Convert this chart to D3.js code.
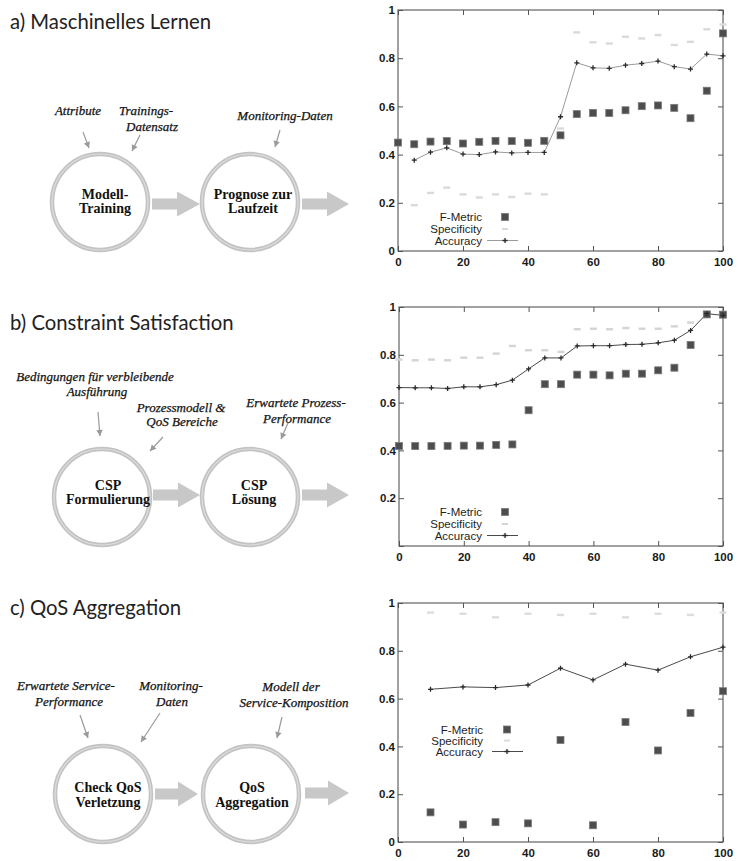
<!DOCTYPE html>
<html>
<head>
<meta charset="utf-8">
<script src="https://cdn.jsdelivr.net/npm/d3@7/dist/d3.min.js"></script>
<style>
  html, body { margin: 0; padding: 0; background: #fff; }
  svg { display: block; }
</style>
</head>
<body>
<svg id="fig" width="738" height="861"></svg>
<script>
// ---------------- DATA ----------------
const xSteps5 = [0,5,10,15,20,25,30,35,40,45,50,55,60,65,70,75,80,85,90,95,100];
const xSteps10 = [10,20,30,40,50,60,70,80,90,100];
const xTickValues = [0,20,40,60,80,100];
const yTickValues = [0,0.2,0.4,0.6,0.8,1];
const seriesNames = ["F-Metric","Specificity","Accuracy"];

// a) Maschinelles Lernen
const fMetricA     = [0.45,0.443,0.454,0.456,0.446,0.453,0.457,0.456,0.449,0.457,0.48,0.568,0.573,0.573,0.584,0.601,0.604,0.594,0.551,0.665,0.903];
const specificityA = [null,0.19,0.241,0.263,0.235,0.222,0.235,0.224,0.238,0.235,0.508,0.907,0.866,0.861,0.889,0.882,0.896,0.855,0.868,0.92,0.94];
const accuracyA    = [null,0.377,0.41,0.428,0.402,0.40,0.411,0.407,0.409,0.409,0.557,0.781,0.76,0.758,0.771,0.778,0.788,0.765,0.755,0.817,0.81];

// b) Constraint Satisfaction
const fMetricB     = [0.418,0.418,0.418,0.419,0.42,0.42,0.423,0.425,0.568,0.677,0.677,0.717,0.717,0.714,0.721,0.721,0.735,0.746,0.841,0.969,0.968];
const specificityB = [0.78,0.777,0.78,0.777,0.788,0.788,0.805,0.837,0.819,0.819,0.812,0.907,0.909,0.907,0.912,0.909,0.909,0.919,0.935,0.975,0.97];
const accuracyB    = [0.663,0.662,0.662,0.659,0.666,0.666,0.675,0.694,0.741,0.787,0.787,0.837,0.838,0.838,0.843,0.844,0.85,0.861,0.902,0.972,0.965];

// c) QoS Aggregation
const fMetricC     = [0.124,0.073,0.083,0.078,0.427,0.07,0.502,0.383,0.54,0.631];
const specificityC = [0.96,0.955,0.94,0.955,0.95,0.955,0.94,0.955,0.95,0.96];
const accuracyC    = [0.639,0.649,0.646,0.657,0.727,0.678,0.744,0.719,0.775,0.815];

// ---------------- LAYOUT ----------------
const svg = d3.select("#fig");
svg.append("rect").attr("width",738).attr("height",861).attr("fill","#fff");

const sans = "'Liberation Sans', Arial, sans-serif";
const serif = "'Liberation Serif', 'Times New Roman', serif";

const charts = [
  { x0:398, x1:723, y0:10,  y1:251, xs:xSteps5,  fm:fMetricA, sp:specificityA, acc:accuracyA,
    showZero:true, accColor:"#9a9a9a", spColor:"#dadada", legX:482, legMark:505, legLine:[487,518], legY:[217,229,240.5], legBox:false },
  { x0:399, x1:723, y0:307, y1:546, xs:xSteps5,  fm:fMetricB, sp:specificityB, acc:accuracyB,
    showZero:false, accColor:"#4a4a4a", spColor:"#d4d4d4", legX:482, legMark:505, legLine:[487,518], legY:[512,524,535.5], legBox:false },
  { x0:398, x1:723, y0:603, y1:842, xs:xSteps10, fm:fMetricC, sp:specificityC, acc:accuracyC,
    showZero:true, accColor:"#4a4a4a", spColor:"#dcdcdc", legX:483, legMark:507, legLine:[492,523], legY:[729.5,740.5,751.5], legBox:true }
];

charts.forEach(c => {
  const g = svg.append("g");
  const x = d3.scaleLinear().domain([0,100]).range([c.x0, c.x1]);
  const y = d3.scaleLinear().domain([0,1]).range([c.y1, c.y0]);
  const fmt = v => v === 0 ? (c.showZero ? "0" : "") : (v === 1 ? "1" : d3.format(".1f")(v));

  const styleAxis = sel => {
    sel.select(".domain").remove();
    sel.selectAll(".tick line").attr("stroke","#555").attr("stroke-width",1);
    sel.selectAll("text").attr("font-family",sans).attr("font-weight","bold")
      .attr("font-size",11.5).attr("fill","#1a1a1a");
  };
  g.append("g").attr("transform",`translate(${c.x0},0)`)
    .call(d3.axisLeft(y).tickValues(yTickValues).tickFormat(fmt).tickSize(-5).tickPadding(3))
    .call(styleAxis);
  g.append("g").attr("transform",`translate(${c.x1},0)`)
    .call(d3.axisRight(y).tickValues(yTickValues).tickFormat("").tickSize(-5))
    .call(styleAxis);
  g.append("g").attr("transform",`translate(0,${c.y1})`)
    .call(d3.axisBottom(x).tickValues(xTickValues).tickFormat(d3.format("d")).tickSize(-5).tickPadding(7))
    .call(styleAxis);
  g.append("g").attr("transform",`translate(0,${c.y0})`)
    .call(d3.axisTop(x).tickValues(xTickValues).tickFormat("").tickSize(-5))
    .call(styleAxis);
  g.append("rect").attr("x",c.x0).attr("y",c.y0).attr("width",c.x1-c.x0).attr("height",c.y1-c.y0)
    .attr("fill","none").attr("stroke","#555").attr("stroke-width",1.1);

  // legend background (c)
  if (c.legBox) {
    g.append("rect").attr("x",c.legX-55).attr("y",c.legY[0]-8).attr("width",c.legLine[1]-c.legX+60)
      .attr("height",c.legY[2]-c.legY[0]+16).attr("fill","#fff");
  }

  // Specificity: light dashes
  const spPts = c.xs.map((v,i)=>({x:v,y:c.sp[i]})).filter(d=>d.y!=null);
  g.selectAll(".sp").data(spPts).enter().append("rect")
    .attr("x",d=>x(d.x)-3.5).attr("y",d=>y(d.y)-1.2).attr("width",7).attr("height",2.4)
    .attr("fill",c.spColor);

  // Accuracy: line with small plus markers
  const accPts = c.xs.map((v,i)=>({x:v,y:c.acc[i]})).filter(d=>d.y!=null);
  g.append("path").datum(accPts)
    .attr("d", d3.line().x(d=>x(d.x)).y(d=>y(d.y)))
    .attr("fill","none").attr("stroke",c.accColor).attr("stroke-width",1);
  // F-Metric squares
  const fmPts = c.xs.map((v,i)=>({x:v,y:c.fm[i]})).filter(d=>d.y!=null);
  g.selectAll(".fm").data(fmPts).enter().append("rect")
    .attr("x",d=>x(d.x)-3.5).attr("y",d=>y(d.y)-3.5).attr("width",7).attr("height",7)
    .attr("fill","#4d4d4d").attr("stroke","#7a7a7a").attr("stroke-width",0.8);
  g.selectAll(".acc").data(accPts).enter().append("path")
    .attr("transform",d=>`translate(${x(d.x)},${y(d.y)})`)
    .attr("d","M-2.5,0H2.5M0,-2.5V2.5").attr("stroke","#2a2a2a").attr("stroke-width",1.3);

  // legend
  seriesNames.forEach((n,i)=>{
    g.append("text").attr("x",c.legX).attr("y",c.legY[i]+4).attr("text-anchor","end")
      .attr("font-family",sans).attr("font-size",11.5).attr("fill","#1e1e1e").text(n);
  });
  g.append("rect").attr("x",c.legMark-3.5).attr("y",c.legY[0]-3.5).attr("width",7).attr("height",7)
    .attr("fill","#4d4d4d").attr("stroke","#7a7a7a").attr("stroke-width",0.8);
  g.append("rect").attr("x",c.legMark-3).attr("y",c.legY[1]-1).attr("width",6).attr("height",2)
    .attr("fill",c.spColor);
  g.append("line").attr("x1",c.legLine[0]).attr("x2",c.legLine[1]).attr("y1",c.legY[2]).attr("y2",c.legY[2])
    .attr("stroke",c.accColor).attr("stroke-width",1);
  g.append("path").attr("transform",`translate(${c.legMark},${c.legY[2]})`)
    .attr("d","M-2.5,0H2.5M0,-2.5V2.5").attr("stroke","#2a2a2a").attr("stroke-width",1.3);
});

// ---------------- DIAGRAMS ----------------
const titles = [
  {t:"a) Maschinelles Lernen", y:29},
  {t:"b) Constraint Satisfaction", y:330},
  {t:"c) QoS Aggregation", y:615}
];
titles.forEach(d=>{
  svg.append("text").attr("x",10).attr("y",d.y).attr("font-family","Lato, 'Open Sans', sans-serif")
    .attr("font-size",20.3).attr("fill","#222").text(d.t);
});

const circles = [
  {cx:100, cy:202, lines:["Modell-","Training"], tx:105, ty:[199,213]},
  {cx:250, cy:202, lines:["Prognose zur","Laufzeit"], tx:253, ty:[199,213]},
  {cx:102, cy:497, lines:["CSP","Formulierung"], tx:108, ty:[490,504]},
  {cx:250, cy:497, lines:["CSP","Lösung"], tx:254, ty:[490,504]},
  {cx:103, cy:794, lines:["Check QoS","Verletzung"], tx:108, ty:[792,807]},
  {cx:251, cy:794, lines:["QoS","Aggregation"], tx:252, ty:[792,807]}
];
circles.forEach(c=>{
  svg.append("circle").attr("cx",c.cx).attr("cy",c.cy).attr("r",48)
    .attr("fill","#fff").attr("stroke","#c3c3c3").attr("stroke-width",4.5);
  svg.append("circle").attr("cx",c.cx).attr("cy",c.cy).attr("r",48)
    .attr("fill","none").attr("stroke","#ddd").attr("stroke-width",1.2);
  c.lines.forEach((l,i)=>{
    svg.append("text").attr("x",c.tx).attr("y",c.ty[i]).attr("text-anchor","middle")
      .attr("font-family",serif).attr("font-weight","bold").attr("font-size",14).attr("fill","#111").text(l);
  });
});

// block arrows
const blockArrows = [
  {x0:152, xh:177, x1:200, y:204}, {x0:302, xh:327, x1:349, y:204},
  {x0:153, xh:178, x1:200, y:495}, {x0:302, xh:327, x1:349, y:495},
  {x0:155, xh:178, x1:198, y:794}, {x0:305, xh:328, x1:349, y:793}
];
blockArrows.forEach(a=>{
  const p = d3.path();
  p.moveTo(a.x0, a.y-5.5); p.lineTo(a.xh, a.y-5.5); p.lineTo(a.xh, a.y-12.5);
  p.lineTo(a.x1, a.y); p.lineTo(a.xh, a.y+12.5); p.lineTo(a.xh, a.y+5.5);
  p.lineTo(a.x0, a.y+5.5); p.closePath();
  svg.append("path").attr("d",p.toString()).attr("fill","#c8c8c8");
});

// thin input arrows
const thinArrows = [
  [83,132,89,148],[140,135,132,151],[280,130,275,147],
  [98,412,100,436],[163,437,150,451],[288,423,281,439],
  [80,715,88,738],[160,713,141,742],[282,717,277,738]
];
thinArrows.forEach(([xa,ya,xb,yb])=>{
  svg.append("line").attr("x1",xa).attr("y1",ya).attr("x2",xb).attr("y2",yb)
    .attr("stroke","#9a9a9a").attr("stroke-width",1.2);
  const ang = Math.atan2(yb-ya, xb-xa);
  const L = 6, W = 3.2;
  const bx = xb - L*Math.cos(ang), by = yb - L*Math.sin(ang);
  const px = -Math.sin(ang)*W, py = Math.cos(ang)*W;
  svg.append("path").attr("d",`M${xb},${yb}L${bx+px},${by+py}L${bx-px},${by-py}Z`).attr("fill","#9a9a9a");
});

// italic input labels
const inputLabels = [
  {t:"Attribute", x:78, y:115},
  {t:"Trainings-", x:146, y:115},
  {t:"Datensatz", x:152, y:131},
  {t:"Monitoring-Daten", x:285, y:120},
  {t:"Bedingungen für verbleibende", x:95, y:381},
  {t:"Ausführung", x:97, y:396},
  {t:"Prozessmodell &", x:181, y:412},
  {t:"QoS Bereiche", x:182, y:426},
  {t:"Erwartete Prozess-", x:296, y:407},
  {t:"Performance", x:297, y:423},
  {t:"Erwartete Service-", x:66, y:690},
  {t:"Performance", x:69, y:706},
  {t:"Monitoring-", x:171, y:690},
  {t:"Daten", x:172, y:706},
  {t:"Modell der", x:291, y:691},
  {t:"Service-Komposition", x:294, y:707}
];
inputLabels.forEach(d=>{
  svg.append("text").attr("x",d.x).attr("y",d.y).attr("text-anchor","middle")
    .attr("font-family",serif).attr("font-style","italic").attr("font-size",13)
    .attr("fill","#111").attr("stroke","#111").attr("stroke-width",0.25).text(d.t);
});
</script>
</body>
</html>
